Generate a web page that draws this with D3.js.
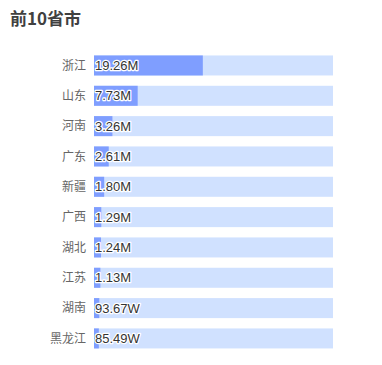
<!DOCTYPE html>
<html lang="zh">
<head>
  <meta charset="UTF-8">
  <title>前10省市</title>
  <script src="https://d3js.org/d3.v7.min.js"></script>
  <style>
    body { margin: 0; background: #ffffff; }
    svg { display: block; font-family: "Noto Sans CJK SC", "Noto Sans", sans-serif; }
  </style>
</head>
<body>
  <script>
    const width = 382;
    const height = 365;

    const provinces = ["浙江", "山东", "河南", "广东", "新疆", "广西", "湖北", "江苏", "湖南", "黑龙江"];
    const values = [19260000, 7730000, 3260000, 2610000, 1800000, 1290000, 1240000, 1130000, 936700, 854900];
    const labels = ["19.26M", "7.73M", "3.26M", "2.61M", "1.80M", "1.29M", "1.24M", "1.13M", "93.67W", "85.49W"];
    const maxValue = 42300000;

    const margin = { top: 50, right: 49, bottom: 12, left: 94 };

    const svg = d3.select("body").append("svg")
        .attr("width", width)
        .attr("height", height);

    svg.append("text")
        .attr("x", 10)
        .attr("y", 25)
        .attr("fill", "#404040")
        .attr("font-size", 17)
        .attr("font-weight", "bold")
        .text("前10省市");

    const x = d3.scaleLinear()
        .domain([0, maxValue])
        .range([margin.left, width - margin.right]);

    const y = d3.scaleBand()
        .domain(provinces)
        .range([margin.top + 0.3, margin.top + 30.33 * 10 + 0.3])
        .paddingInner(0.34)
        .paddingOuter(0.17);

    const rows = svg.append("g")
      .selectAll("g")
      .data(provinces)
      .join("g");

    rows.append("rect")
        .attr("x", x(0))
        .attr("y", d => y(d))
        .attr("width", x(maxValue) - x(0))
        .attr("height", y.bandwidth())
        .attr("fill", "#d0e1ff");

    rows.append("rect")
        .attr("x", x(0))
        .attr("y", d => y(d))
        .attr("width", (d, i) => x(values[i]) - x(0))
        .attr("height", y.bandwidth())
        .attr("fill", "#7f9eff");

    rows.append("text")
        .attr("x", x(0) - 8)
        .attr("y", d => y(d) + y.bandwidth() / 2)
        .attr("dy", "0.35em")
        .attr("text-anchor", "end")
        .attr("fill", "#666666")
        .attr("font-size", 12)
        .text(d => d);

    rows.append("text")
        .attr("x", x(0) + 1)
        .attr("y", d => y(d) + y.bandwidth() / 2)
        .attr("dy", "0.36em")
        .attr("fill", "#333333")
        .attr("stroke", "#ffffff")
        .attr("stroke-width", 2.5)
        .attr("stroke-linejoin", "round")
        .attr("paint-order", "stroke")
        .attr("font-family", "'Liberation Sans', Arial, sans-serif")
        .attr("font-size", 13)
        .text((d, i) => labels[i]);
  </script>
</body>
</html>
